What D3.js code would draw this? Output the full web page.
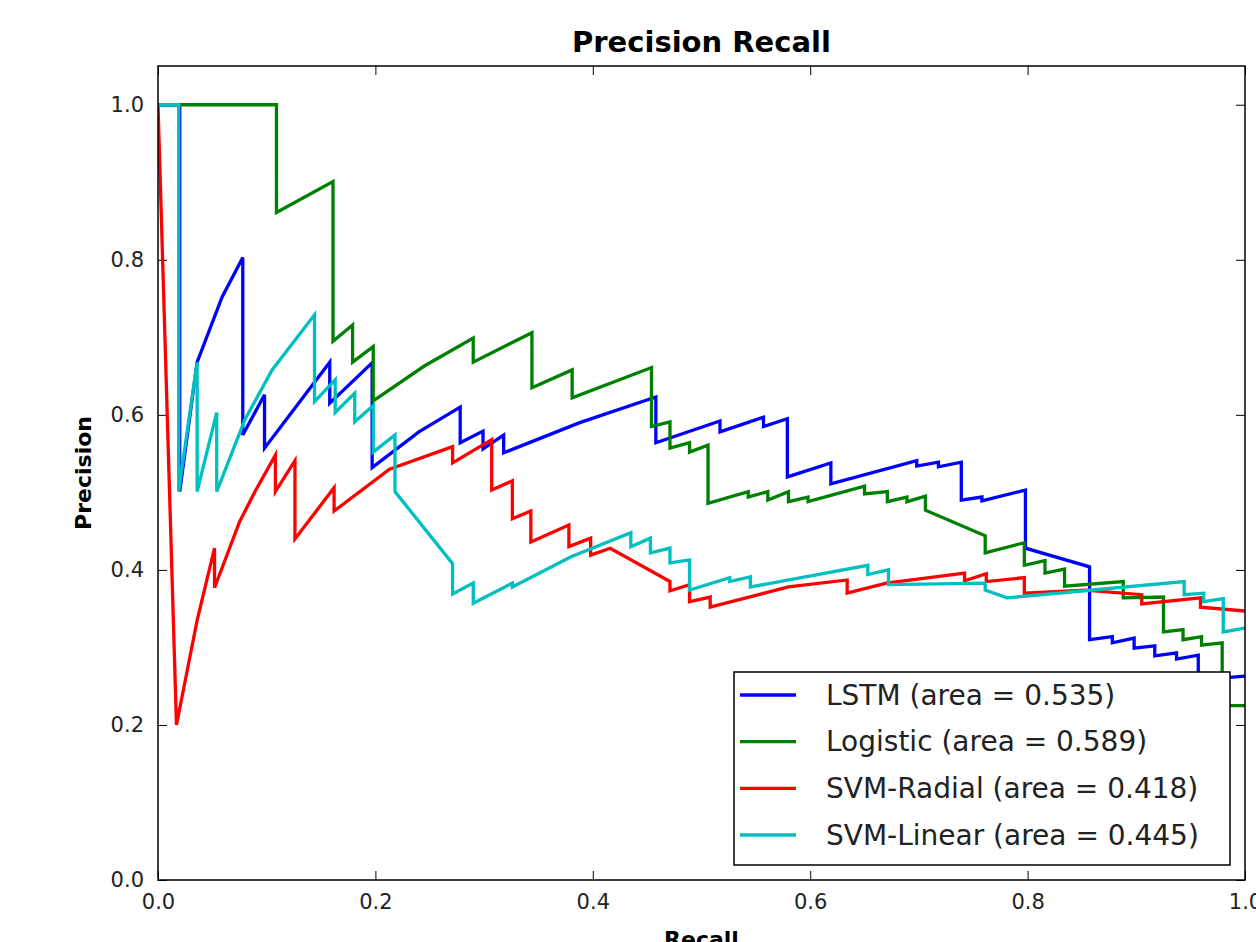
<!DOCTYPE html>
<html>
<head>
<meta charset="utf-8">
<script src="https://cdn.jsdelivr.net/npm/d3@7"></script>
<style>
  body { margin: 0; background: #fff; }
  text { font-family: "DejaVu Sans", sans-serif; }
</style>
</head>
<body>
<div id="chart"></div>
<script>
// ---- data ----
var seriesNames = ["LSTM", "Logistic", "SVM-Radial", "SVM-Linear"];
var seriesAreas = ["0.535", "0.589", "0.418", "0.445"];
var seriesColors = ["#0000ff", "#008000", "#ff0000", "#00bfbf"];

var xTicks = [0.0, 0.2, 0.4, 0.6, 0.8, 1.0];
var yTicks = [0.0, 0.2, 0.4, 0.6, 0.8, 1.0];

var lstmRecall = [0, 0.020, 0.020, 0.036, 0.059, 0.078, 0.078, 0.098, 0.098, 0.158, 0.158, 0.197, 0.197,
  0.240, 0.278, 0.278, 0.299, 0.299, 0.318, 0.318, 0.388, 0.458, 0.458, 0.517, 0.517, 0.557, 0.557, 0.579, 0.579,
  0.619, 0.619, 0.698, 0.698, 0.718, 0.718, 0.739, 0.739, 0.758, 0.758, 0.798, 0.798, 0.857, 0.857,
  0.878, 0.878, 0.898, 0.898, 0.917, 0.917, 0.937, 0.937, 0.957, 0.957, 1.0];
var lstmPrecision = [1.0, 1.0, 0.501, 0.668, 0.752, 0.803, 0.574, 0.626, 0.557, 0.668, 0.615, 0.667, 0.532,
  0.578, 0.610, 0.564, 0.579, 0.556, 0.574, 0.551, 0.590, 0.623, 0.564, 0.592, 0.578, 0.597, 0.585, 0.595, 0.520,
  0.538, 0.511, 0.541, 0.534, 0.539, 0.533, 0.539, 0.490, 0.494, 0.489, 0.503, 0.428, 0.404, 0.310,
  0.314, 0.306, 0.312, 0.299, 0.302, 0.289, 0.293, 0.285, 0.290, 0.258, 0.263];

var logRecall = [0, 0.109, 0.109, 0.161, 0.161, 0.179, 0.179, 0.198, 0.198, 0.245, 0.290, 0.290, 0.344, 0.344,
  0.381, 0.381, 0.454, 0.454, 0.471, 0.471, 0.489, 0.489, 0.506, 0.506, 0.543, 0.543, 0.561, 0.561,
  0.580, 0.580, 0.598, 0.598, 0.650, 0.650, 0.671, 0.671, 0.689, 0.689, 0.706, 0.706, 0.761, 0.761,
  0.797, 0.797, 0.816, 0.816, 0.834, 0.834, 0.888, 0.888, 0.925, 0.925, 0.943, 0.943, 0.960, 0.960,
  0.979, 0.979, 1.0];
var logPrecision = [1.0, 1.0, 0.861, 0.901, 0.695, 0.716, 0.668, 0.688, 0.618, 0.663, 0.699, 0.668, 0.706, 0.635,
  0.658, 0.622, 0.661, 0.585, 0.591, 0.557, 0.564, 0.552, 0.561, 0.486, 0.501, 0.494, 0.501, 0.490,
  0.501, 0.488, 0.494, 0.488, 0.508, 0.498, 0.501, 0.488, 0.494, 0.488, 0.495, 0.477, 0.444, 0.422,
  0.435, 0.406, 0.412, 0.396, 0.401, 0.379, 0.385, 0.364, 0.365, 0.320, 0.323, 0.310, 0.314, 0.303,
  0.306, 0.225, 0.225];

var radRecall = [0, 0.017, 0.036, 0.052, 0.052, 0.075, 0.090, 0.108, 0.108, 0.126, 0.126, 0.162, 0.162,
  0.213, 0.271, 0.271, 0.307, 0.307, 0.326, 0.326, 0.343, 0.343, 0.378, 0.378, 0.398, 0.398, 0.416,
  0.471, 0.471, 0.489, 0.489, 0.508, 0.508, 0.580, 0.634, 0.634, 0.670, 0.742, 0.742, 0.762, 0.762,
  0.797, 0.797, 0.853, 0.905, 0.905, 0.959, 0.959, 1.0];
var radPrecision = [1.0, 0.200, 0.335, 0.428, 0.377, 0.462, 0.503, 0.548, 0.501, 0.541, 0.440, 0.506, 0.476,
  0.530, 0.559, 0.538, 0.568, 0.503, 0.515, 0.466, 0.476, 0.436, 0.458, 0.430, 0.441, 0.419, 0.428,
  0.385, 0.373, 0.381, 0.359, 0.365, 0.352, 0.378, 0.387, 0.370, 0.383, 0.396, 0.386, 0.395, 0.385,
  0.390, 0.370, 0.374, 0.368, 0.356, 0.364, 0.352, 0.347];

var linRecall = [0, 0.019, 0.019, 0.036, 0.036, 0.054, 0.054, 0.080, 0.105, 0.144, 0.144, 0.163, 0.163,
  0.181, 0.181, 0.198, 0.198, 0.218, 0.218, 0.271, 0.271, 0.290, 0.290, 0.326, 0.326, 0.380, 0.435, 0.435,
  0.453, 0.453, 0.471, 0.471, 0.489, 0.489, 0.526, 0.526, 0.545, 0.545, 0.653, 0.653, 0.672, 0.672,
  0.761, 0.761, 0.781, 0.944, 0.944, 0.962, 0.962, 0.980, 0.980, 1.0];
var linPrecision = [1.0, 1.0, 0.501, 0.668, 0.501, 0.603, 0.501, 0.594, 0.658, 0.729, 0.617, 0.645, 0.603,
  0.628, 0.591, 0.612, 0.552, 0.574, 0.501, 0.408, 0.369, 0.383, 0.357, 0.383, 0.378, 0.417, 0.448, 0.430,
  0.441, 0.422, 0.428, 0.409, 0.413, 0.374, 0.390, 0.385, 0.391, 0.378, 0.406, 0.394, 0.400, 0.381,
  0.383, 0.374, 0.364, 0.385, 0.368, 0.370, 0.359, 0.363, 0.320, 0.325];

var recallSets = [lstmRecall, logRecall, radRecall, linRecall];
var precisionSets = [lstmPrecision, logPrecision, radPrecision, linPrecision];

// ---- layout ----
var W = 1256, H = 942;
var margin = {top: 66, right: 11, bottom: 62, left: 158},
    width = W - margin.left - margin.right,
    height = H - margin.top - margin.bottom;

var svg = d3.select("#chart").append("svg")
    .attr("width", W)
    .attr("height", H);

var g = svg.append("g")
    .attr("transform", "translate(" + margin.left + "," + margin.top + ")");

var x = d3.scaleLinear().domain([0, 1]).range([0, width]);
var y = d3.scaleLinear().domain([0, 1.05]).range([height, 0]);

g.append("clipPath").attr("id", "clip")
  .append("rect").attr("width", width).attr("height", height);

// inward ticks on all four sides, like classic matplotlib
var tickLen = 9;
var xAxisB = d3.axisBottom(x).tickValues(xTicks).tickSize(-tickLen).tickPadding(tickLen + 5)
    .tickFormat(d3.format(".1f"));
var xAxisT = d3.axisTop(x).tickValues(xTicks).tickSize(-tickLen).tickFormat("");
var yAxisL = d3.axisLeft(y).tickValues(yTicks).tickSize(-tickLen).tickPadding(tickLen + 5)
    .tickFormat(d3.format(".1f"));
var yAxisR = d3.axisRight(y).tickValues(yTicks).tickSize(-tickLen).tickFormat("");

function styleAxis(sel) {
  sel.select(".domain").remove();
  sel.selectAll(".tick line").attr("stroke", "#000").attr("stroke-width", 1);
  sel.selectAll(".tick text").attr("fill", "#222").style("font-size", "21px");
}

g.append("g").attr("transform", "translate(0," + height + ")").call(xAxisB).call(styleAxis);
g.append("g").call(xAxisT).call(styleAxis);
g.append("g").call(yAxisL).call(styleAxis);
g.append("g").attr("transform", "translate(" + width + ",0)").call(yAxisR).call(styleAxis);

// the curves
var line = d3.line()
    .x(function(d) { return x(d[0]); })
    .y(function(d) { return y(d[1]); });

var curves = g.append("g").attr("clip-path", "url(#clip)");
seriesNames.forEach(function(name, i) {
  var pts = recallSets[i].map(function(r, k) { return [r, precisionSets[i][k]]; });
  curves.append("path")
      .datum(pts)
      .attr("fill", "none")
      .attr("stroke", seriesColors[i])
      .attr("stroke-width", 3.3)
      .attr("stroke-linejoin", "miter")
      .attr("d", line);
});

// frame
g.append("rect")
    .attr("width", width).attr("height", height)
    .attr("fill", "none").attr("stroke", "#000").attr("stroke-width", 1.5);

// title and axis labels
svg.append("text")
    .attr("x", margin.left + width / 2).attr("y", 52)
    .attr("text-anchor", "middle")
    .style("font-size", "29px").style("font-weight", "bold")
    .text("Precision Recall");

svg.append("text")
    .attr("x", margin.left + width / 2).attr("y", 947)
    .attr("text-anchor", "middle")
    .style("font-size", "22px").style("font-weight", "bold")
    .text("Recall");

svg.append("text")
    .attr("transform", "translate(91," + (margin.top + height / 2) + ") rotate(-90)")
    .attr("text-anchor", "middle")
    .style("font-size", "22px").style("font-weight", "bold")
    .text("Precision");

// legend, lower right
var legend = svg.append("g").attr("transform", "translate(734,672)");
legend.append("rect")
    .attr("width", 496).attr("height", 193)
    .attr("fill", "#fff").attr("stroke", "#000").attr("stroke-width", 1.5);

var rowY = d3.scalePoint().domain(seriesNames).range([23, 163]);
seriesNames.forEach(function(name, i) {
  var r = legend.append("g").attr("transform", "translate(0," + rowY(name) + ")");
  r.append("line")
      .attr("x1", 6).attr("x2", 62)
      .attr("stroke", seriesColors[i]).attr("stroke-width", 3.3);
  r.append("text")
      .attr("x", 92).attr("dy", "0.35em")
      .attr("fill", "#222")
      .style("font-size", "28px")
      .text(name + " (area = " + seriesAreas[i] + ")");
});
</script>
</body>
</html>
